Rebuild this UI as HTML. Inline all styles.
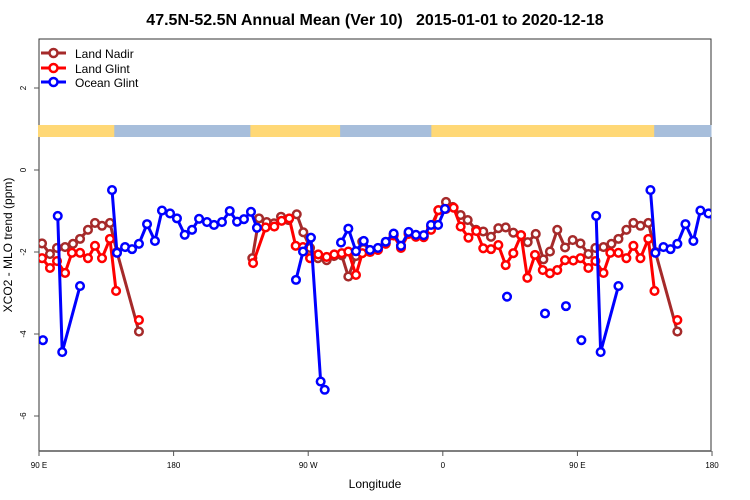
<!DOCTYPE html>
<html><head><meta charset="utf-8">
<style>
body{margin:0;background:#fff;}
svg{display:block;font-family:"Liberation Sans",sans-serif;}
</style></head>
<body>
<svg id="chart" width="750" height="500" viewBox="0 0 750 500">
<defs><clipPath id="pc"><rect x="39" y="39" width="672" height="412"/></clipPath></defs>
<text x="375" y="25" text-anchor="middle" font-size="16" font-weight="bold">47.5N-52.5N Annual Mean (Ver 10)&#160;&#160; 2015-01-01 to 2020-12-18</text>
<rect x="39" y="39" width="672" height="412" fill="none" stroke="#333" stroke-width="1"/>
<g id="strip"></g>
<g id="axes"></g>
<g id="series" clip-path="url(#pc)"></g>
<text x="375" y="488" text-anchor="middle" font-size="12">Longitude</text>
<text transform="translate(12,245) rotate(-90)" text-anchor="middle" font-size="12">XCO2 - MLO trend (ppm)</text>
<g>
<g><line x1="41" y1="53" x2="66" y2="53" stroke="#A52A2A" stroke-width="3"/><circle cx="53.5" cy="53" r="4" fill="#fff" stroke="#A52A2A" stroke-width="2.5"/><text x="75" y="58" font-size="12">Land Nadir</text></g>
<g><line x1="41" y1="68" x2="66" y2="68" stroke="#FF0000" stroke-width="3"/><circle cx="53.5" cy="68" r="4" fill="#fff" stroke="#FF0000" stroke-width="2.5"/><text x="75" y="73" font-size="12">Land Glint</text></g>
<g><line x1="41" y1="82" x2="66" y2="82" stroke="#0000FF" stroke-width="3"/><circle cx="53.5" cy="82" r="4" fill="#fff" stroke="#0000FF" stroke-width="2.5"/><text x="75" y="87" font-size="12">Ocean Glint</text></g>
</g>
</svg>
<script>
// longitude offset in degrees east of 90E (0..360), values in ppm; null breaks line
const nadirLon=[2.7,8.0,12.7,18.1,23.4,28.1,33.4,38.1,42.8,48.1,52.8,67.5,null,143.3,147.8,152.9,157.8,162.5,167.4,173.0,177.4,181.9,187.2,193.0,197.9,203.1,207.5,212.6,216.8,222.0,227.3,232.5,237.8,242.7,247.8,252.7,257.9,262.8,267.7,272.8,277.3,282.6,287.3,292.9,297.7,302.9,307.8,312.7,317.8,322.9,327.4,332.8,337.9,342.3,347.2,352.4,357.5];
const nadirVal=[-1.79,-2.05,-1.90,-1.88,-1.80,-1.68,-1.46,-1.29,-1.36,-1.29,-2.00,-3.94,null,-2.15,-1.18,-1.27,-1.30,-1.14,-1.22,-1.08,-1.52,-1.90,-2.15,-2.20,-2.10,-2.08,-2.60,-2.10,-1.75,-1.98,-1.93,-1.78,-1.58,-1.85,-1.55,-1.60,-1.62,-1.38,-0.98,-0.78,-0.90,-1.10,-1.22,-1.46,-1.50,-1.63,-1.42,-1.40,-1.53,-1.59,-1.76,-1.56,-2.18,-1.99,-1.46,-1.89,-1.71];
const glintLon=[2.7,8.0,12.7,18.1,22.7,28.1,33.4,38.1,42.8,48.1,52.2,null,67.5,null,143.8,152.2,158.0,162.9,168.0,172.3,177.2,181.9,187.4,193.0,198.1,203.1,207.5,212.6,216.8,222.0,227.3,232.5,237.8,242.7,247.8,252.7,257.9,262.8,267.7,272.8,277.9,282.6,287.8,293.1,297.7,302.9,307.8,312.7,317.8,323.0,327.2,332.3,337.5,342.3,347.2,352.4,357.9];
const glintVal=[-2.15,-2.39,-2.22,-2.51,-2.02,-2.02,-2.15,-1.85,-2.15,-1.68,-2.95,null,-3.66,null,-2.27,-1.40,-1.38,-1.24,-1.18,-1.85,-1.88,-2.15,-2.06,-2.12,-2.06,-2.03,-1.99,-2.56,-2.03,-2.00,-1.95,-1.80,-1.60,-1.90,-1.56,-1.63,-1.64,-1.46,-0.98,-0.95,-0.92,-1.38,-1.65,-1.49,-1.91,-1.93,-1.83,-2.32,-2.03,-1.59,-2.63,-2.07,-2.44,-2.52,-2.44,-2.20,-2.21];
const oceanLon=[3.3,null,13.2,16.2,28.1,null,49.5,52.8,58.2,62.9,67.5,72.9,78.2,82.9,88.3,92.9,98.1,103.0,107.7,113.0,117.7,123.0,128.2,133.1,137.7,142.4,146.4,null,172.5,177.2,182.5,189.0,191.7,null,202.6,207.5,212.6,217.8,222.0,227.3,232.5,237.8,242.7,247.8,252.7,257.9,262.8,267.5,272.1,null,313.6,null,339.0,null,353.0];
const oceanVal=[-4.15,null,-1.12,-4.44,-2.83,null,-0.49,-2.02,-1.88,-1.93,-1.80,-1.32,-1.73,-0.99,-1.06,-1.18,-1.58,-1.46,-1.19,-1.27,-1.34,-1.27,-1.00,-1.26,-1.20,-1.02,-1.41,null,-2.68,-1.99,-1.65,-5.16,-5.36,null,-1.77,-1.43,-1.98,-1.73,-1.95,-1.90,-1.75,-1.55,-1.85,-1.51,-1.58,-1.59,-1.34,-1.34,-0.95,null,-3.09,null,-3.50,null,-3.32];
const yTicks=[-6,-4,-2,0,2];
const xTickLon=[0,90,180,270,360,450];
const xTickLabels=["90 E","180","90 W","0","90 E","180"];
// land (true) / ocean segments of the strip, lon offsets
const stripStart=[0,51,142,202,263,412];
const stripEnd=[51,142,202,263,412,450];
const stripLand=[true,false,true,false,true,false];

const NS="http://www.w3.org/2000/svg";
const x=l=>38+1.4956*l;
const y=v=>170-41*v;
function mk(tag,attrs,parent){const e=document.createElementNS(NS,tag);for(const k in attrs)e.setAttribute(k,attrs[k]);parent.appendChild(e);return e;}
const strip=document.getElementById('strip');
for(let i=0;i<stripStart.length;i++){
  const r=mk('rect',{x:x(stripStart[i]),y:125,width:x(stripEnd[i])-x(stripStart[i])+0.5,height:12,fill:stripLand[i]?'#FFD876':'#A7BEDB'},strip);
  
  
}
const axes=document.getElementById('axes');
yTicks.forEach(t=>{
  const l=mk('line',{x1:34,x2:39,y1:y(t),y2:y(t),stroke:'#555'},axes);
  
  
  const tx=mk('text',{transform:`translate(26,${y(t)}) rotate(-90)`,'text-anchor':'middle','font-size':'8'},axes);
  tx.textContent=t;
  
  
});
mk('line',{x1:39,x2:711,y1:451,y2:451,stroke:'#555','stroke-width':1.5},axes);
xTickLon.forEach((t,i)=>{
  const l=mk('line',{x1:x(t)+1,x2:x(t)+1,y1:451,y2:456,stroke:'#555'},axes);
  
  
  const tx=mk('text',{x:x(t)+1,y:468,'text-anchor':'middle','font-size':'8'},axes);
  tx.textContent=xTickLabels[i];
  
  
});
const sg=document.getElementById('series');
function draw(lons,vals,color,name){
  const g=mk('g',{},sg);
  
  
  [0,360].forEach(sh=>{
    let seg=[];
    const segs=[];
    for(let i=0;i<lons.length;i++){
      if(lons[i]===null||vals[i]===null){if(seg.length)segs.push(seg);seg=[];continue;}
      seg.push([x(lons[i]+sh),y(vals[i])]);
    }
    if(seg.length)segs.push(seg);
    segs.forEach(s=>{
      if(s.length>1){
        const p=mk('polyline',{points:s.map(q=>q.join(',')).join(' '),fill:'none',stroke:color,'stroke-width':3,'stroke-linejoin':'round'},g);
        
        
      }
    });
    segs.forEach(s=>s.forEach(q=>{
      const c=mk('circle',{cx:q[0],cy:q[1],r:3.8,fill:'#fff',stroke:color,'stroke-width':2.5},g);
      
      
    }));
  });
}
draw(nadirLon,nadirVal,'#A52A2A','land-nadir-series');
draw(glintLon,glintVal,'#FF0000','land-glint-series');
draw(oceanLon,oceanVal,'#0000FF','ocean-glint-series');
</script>
</body></html>
